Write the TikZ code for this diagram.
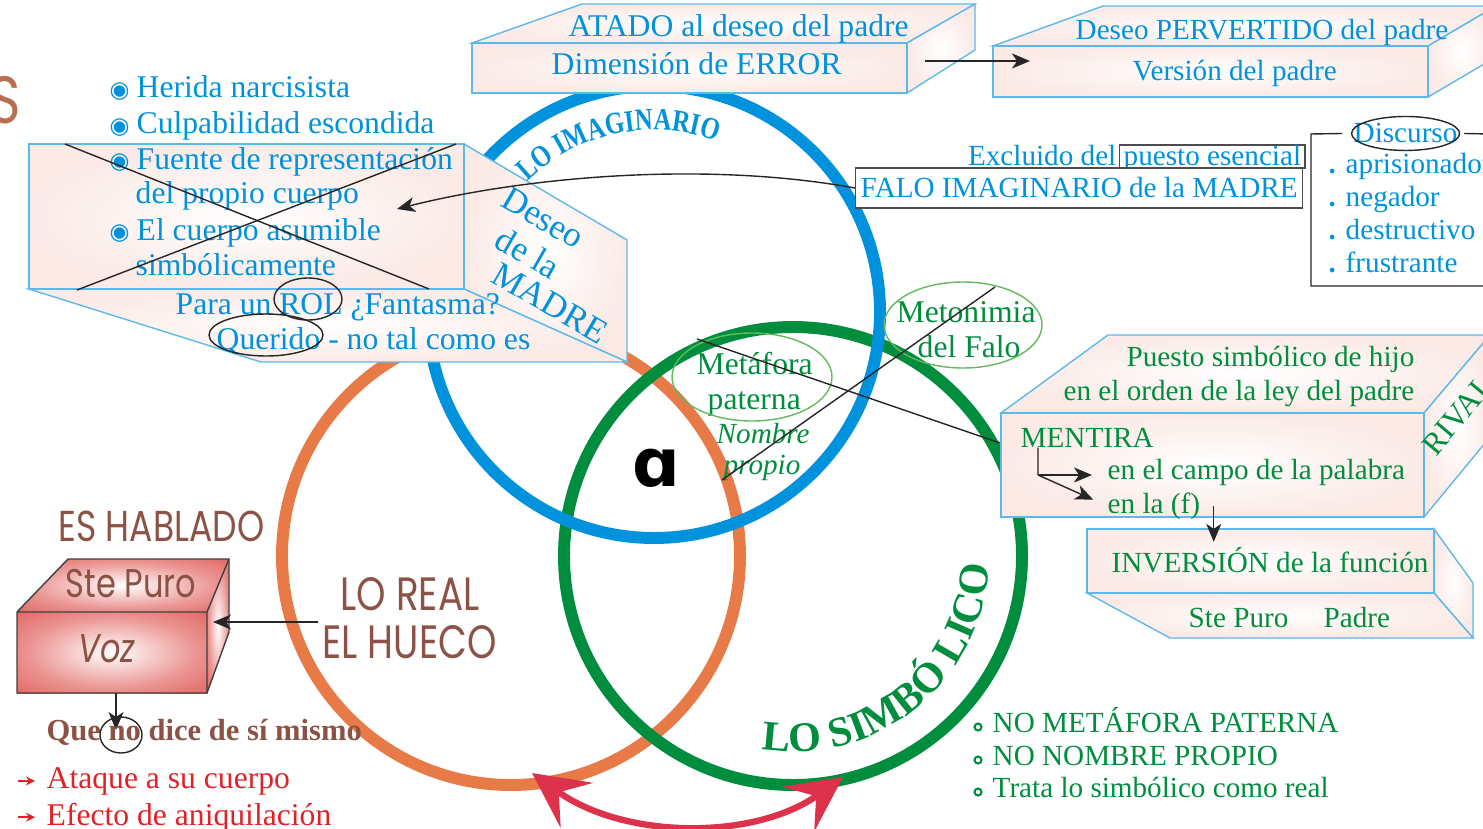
\documentclass[tikz,border=0pt]{standalone}
\usepackage{fontspec}
\setmainfont{Liberation Serif}
\newfontfamily\gothic[FakeStretch=0.8]{Poppins}
\newfontfamily\arcfont[FakeStretch=0.8]{Liberation Serif}
\newfontfamily\symfont{DejaVu Sans}
\usetikzlibrary{arrows.meta,decorations.text}

\definecolor{imagblue}{RGB}{0,146,221}
\definecolor{realorange}{RGB}{232,122,72}
\definecolor{simbgreen}{RGB}{0,142,62}
\definecolor{ovalgreen}{RGB}{100,185,90}
\definecolor{brownish}{RGB}{140,82,70}
\definecolor{sbrown}{RGB}{185,110,80}
\definecolor{alarmred}{RGB}{224,34,40}
\definecolor{arrowpink}{RGB}{221,50,76}
\definecolor{boxpink}{RGB}{251,234,230}
\definecolor{edgeblue}{RGB}{95,185,232}
\definecolor{boxred}{RGB}{214,42,36}

\pgfdeclareradialshading{redglow}{\pgfpoint{0bp}{0bp}}{color(0bp)=(white); color(22bp)=(boxred!50!white); color(45bp)=(boxred!85!white); color(70bp)=(boxred)}

\newcommand{\bul}{\makebox[2.7mm][l]{\raisebox{0.2pt}{\symfont\fontsize{6.5}{6.5}\selectfont ◉}}}

\tikzset{
  ring/.style={line width=3.4pt},
  face/.style={draw=edgeblue, line width=0.4pt, inner color=white, outer color=boxpink},
  redface/.style={shading=redglow},
  arr/.style={-{Stealth[length=1.8mm,width=1.5mm,inset=0.5mm]}, black!85, line width=0.4pt},
  redarr/.style={-{Stealth[length=0.9mm,width=0.9mm]}, alarmred, line width=0.5pt},
  thinline/.style={black!85, line width=0.4pt},
  oval/.style={ovalgreen, line width=0.4pt},
  blue9/.style={text=imagblue, inner sep=0pt, font=\fontsize{9}{10}\selectfont},
  blue8/.style={text=imagblue, inner sep=0pt, font=\fontsize{8.3}{10}\selectfont},
  green8/.style={text=simbgreen, inner sep=0pt, font=\fontsize{8.3}{10}\selectfont},
  green9/.style={text=simbgreen, inner sep=0pt, font=\fontsize{9}{10}\selectfont},
  gothtxt/.style={text=brownish, inner sep=0pt, font=\gothic\fontsize{11.4}{13}\selectfont},
  bigtxt/.style={text=brownish, inner sep=0pt, font=\gothic\fontsize{13.3}{15}\selectfont},
}

\begin{document}
\begin{tikzpicture}[x=0.1mm, y=-0.1mm]
\useasboundingbox (0,0) rectangle (1483,828);
\coordinate (real) at (511,556);
\coordinate (simb) at (793,556);
\coordinate (imag) at (654,312);
\draw[ring, realorange] (real) circle[radius=229];
\draw[ring, simbgreen] (simb) circle[radius=229];
\draw[ring, imagblue] (imag) circle[radius=226];
\path[decorate, decoration={text along path, text align=center, text color=imagblue,
  text={|\arcfont\bfseries\fontsize{8.8}{9}\selectfont|LO IMAGINARIO}}]
  (imag) ++(-156:182) arc[start angle=-156, end angle=-48, radius=182];
\path[decorate, decoration={text along path, text align=center, text color=simbgreen,
  text={|\bfseries\fontsize{12}{12}\selectfont|LO SIMBÓ LICO}}]
  (simb) ++(108:196) arc[start angle=108, end angle=-6, radius=196];

\node[gothtxt, font=\gothic\fontsize{19}{19}\selectfont, text=sbrown, anchor=base east] (sglyph) at (22,124) {S};

\draw[face] (472,43) -- (582,4) -- (975,4) -- (907,43) -- cycle;
\draw[face] (907,43) -- (975,4) -- (975,50) -- (907,93) -- cycle;
\draw[face] (472,43) rectangle (907,93);
\node[blue9, anchor=base west] (atado) at (568,37) {ATADO al deseo del padre};
\node[blue9, anchor=base west] (error) at (551,75) {Dimensión de ERROR};

\draw[face] (993,46) -- (1103,6) -- (1496,6) -- (1428,46) -- cycle;
\draw[face] (1428,46) -- (1496,6) -- (1496,57) -- (1428,97) -- cycle;
\draw[face] (993,46) rectangle (1428,97);
\node[blue8, anchor=base west] (pervertido) at (1075,40) {Deseo PERVERTIDO del padre};
\node[blue8, anchor=base west] (version) at (1132,81) {Versión del padre};
\coordinate (errout) at (925,61);
\coordinate (versin) at (1030,61);
\draw[arr] (errout) -- (versin);

\draw[face] (464,144) -- (627,240) -- (627,362) -- (464,289) -- cycle;
\draw[face] (29,289) -- (464,289) -- (627,362) -- (261,362) -- cycle;
\draw[face] (29,144) rectangle (464,289);
\node[blue9, anchor=base west] (herida) at (109,98) {\bul Herida narcisista};
\node[blue9, anchor=base west] (culpa) at (109,134) {\bul Culpabilidad escondida};
\node[blue9, anchor=base west] (fuente) at (109,169) {\bul Fuente de representación};
\node[blue9, anchor=base west] (propio) at (135,204) {del propio cuerpo};
\node[blue9, anchor=base west] (asumible) at (109,240) {\bul El cuerpo asumible};
\node[blue9, anchor=base west] (simbolic) at (135,275) {simbólicamente};
\draw[thinline] (65,144) -- (429,289);
\draw[thinline] (456,144) -- (77,290);
\node[blue9, anchor=base west] (rol) at (175,314) {Para un ROL ¿Fantasma?};
\node[blue9, anchor=base west] (querido) at (216,349) {Querido - no tal como es};
\draw[thinline] (308,299) ellipse[x radius=34, y radius=21];
\draw[thinline] (266,335) ellipse[x radius=57, y radius=21];
\node[blue9, font=\fontsize{10}{11}\selectfont, rotate=-30] (deseo) at (543,218) {Deseo};
\node[blue9, font=\fontsize{10}{11}\selectfont, rotate=-30] (dela) at (528,253) {de la};
\node[blue9, font=\fontsize{10}{11}\selectfont, rotate=-30] (madre) at (550,303) {MADRE};

\node[blue8, anchor=base east] (excluido) at (1117,165) {Excluido del};
\node[blue8, draw=black!70, anchor=base west, text height=2mm, text depth=0.3mm, inner xsep=0.4mm] (puesto) at (1119,165) {puesto esencial};
\node[blue8, draw=black!70, fill=white, anchor=base west, text height=2.9mm, text depth=1.1mm, inner xsep=0.5mm] (falo) at (855,197) {FALO IMAGINARIO de la MADRE};
\coordinate (madrin) at (397,209);
\draw[arr] (falo.west) .. controls (700,160) and (520,178) .. (madrin);

\node[blue8, anchor=base west] (disc) at (1353,143) {Discurso};
\draw[thinline] (disc.center) ellipse[x radius=54, y radius=17];
\draw[thinline] ([xshift=-1.1mm]disc.west) -- (1311,134) -- (1311,286) -- (1490,286);
\draw[thinline] ([xshift=0.6mm]disc.east) -- (1490,134);
\node[blue8, anchor=base west] (aprision) at (1328,174) {\textbf{.} aprisionador};
\node[blue8, anchor=base west] (negador) at (1328,206) {\textbf{.} negador};
\node[blue8, anchor=base west] (destruct) at (1328,239) {\textbf{.} destructivo};
\node[blue8, anchor=base west] (frustra) at (1328,272) {\textbf{.} frustrante};

\node[gothtxt, font=\symfont\bfseries\fontsize{19}{19}\selectfont, text=black, anchor=base] (alpha) at (656,486) {ɑ};

\node[green9, anchor=base west] (metafora) at (696,374) {Metáfora};
\node[green9, anchor=base west] (paterna) at (707,409) {paterna};
\draw[oval] (752,377) ellipse[x radius=80, y radius=44];
\node[green8, font=\itshape\fontsize{8.3}{10}\selectfont, anchor=base west] (nombre) at (716,443) {Nombre};
\node[green8, font=\itshape\fontsize{8.3}{10}\selectfont, anchor=base west] (propionom) at (723,474) {propio};
\node[green9, anchor=base west] (metonimia) at (896,322) {Metonimia};
\node[green9, anchor=base west] (delfalo) at (917,357) {del Falo};
\draw[oval] (963,325) ellipse[x radius=79, y radius=43];

\draw[face] (1001,413) -- (1108,335) -- (1490,335) -- (1424,413) -- cycle;
\draw[face] (1424,413) -- (1490,335) -- (1490,437) -- (1424,517) -- cycle;
\draw[face] (1001,413) rectangle (1424,517);
\node[green8, anchor=base east] (hijo) at (1415,366) {Puesto simbólico de hijo};
\node[green8, anchor=base east] (orden) at (1415,400) {en el orden de la ley del padre};
\node[green8, anchor=base west] (mentira) at (1020,447) {MENTIRA};
\node[green8, anchor=base west] (campo) at (1107,479) {en el campo de la palabra};
\node[green8, anchor=base west] (enlaf) at (1107,513) {en la (f)};
\node[green8, font=\fontsize{9}{10}\selectfont, rotate=50] (rival) at (1458,415) {RIVAL};
\coordinate (fork) at (1038,475);
\draw[thinline] ([xshift=1.8mm]mentira.south west) -- (fork);
\draw[arr, shorten >=1.5mm] (fork) -- (fork -| campo.west);
\draw[arr, shorten >=1.5mm] (fork) -- (enlaf.west);

\coordinate (metastart) at (697,339);
\coordinate (mentiraedge) at (1000,443);
\draw[thinline] (metastart) -- (mentiraedge);
\coordinate (propiostart) at (722,480);
\coordinate (metonend) at (995,287);
\draw[thinline] (propiostart) -- (metonend);

\draw[face] (1434,529) -- (1473,583) -- (1473,638) -- (1434,593) -- cycle;
\draw[face] (1087,593) -- (1434,593) -- (1473,638) -- (1170,638) -- cycle;
\draw[face] (1087,529) rectangle (1434,593);
\node[green8, anchor=base west] (inversion) at (1111,572) {INVERSIÓN de la función};
\node[green8, anchor=base west] (stepuro) at (1188,627) {Ste Puro};
\node[green8, anchor=base west] (padre) at (1323,627) {Padre};
\draw[arr] ([xshift=1.3mm]enlaf.east) -- ++(0,36);

\node[green8, anchor=base west] (nometafora) at (992,732) {NO METÁFORA PATERNA};
\node[green8, anchor=base west] (nonombre) at (992,765) {NO NOMBRE PROPIO};
\node[green8, anchor=base west] (trata) at (992,797) {Trata lo simbólico como real};
\foreach \item in {nometafora, nonombre, trata}
  \draw[simbgreen, line width=0.6pt] ([shift={(-14,-5)}]\item.base west) circle[radius=3.5];

\node[gothtxt, font=\gothic\fontsize{12.3}{14}\selectfont, anchor=base west] (hablado) at (58,541) {ES HABLADO};
\shade[redface] (17,612) -- (68,559) -- (229,559) -- (207,612) -- cycle;
\shade[redface] (207,612) -- (229,559) -- (229,632) -- (207,693) -- cycle;
\shade[redface] (17,612) rectangle (207,693);
\draw[black!75, line width=0.4pt] (17,612) -- (68,559) -- (229,559) -- (229,632) -- (207,693) -- (17,693) -- cycle;
\draw[black!75, line width=0.4pt] (17,612) -- (207,612) -- (229,559) (207,612) -- (207,693);
\node[gothtxt, anchor=base west] (stepurored) at (65,597) {Ste Puro};
\node[gothtxt, font=\gothic\itshape\fontsize{11.4}{13}\selectfont, anchor=base west] (voz) at (78,662) {Voz};

\node[bigtxt, anchor=base west] (loreal) at (340,610) {LO REAL};
\node[bigtxt, anchor=base west] (hueco) at (322,658) {EL HUECO};
\coordinate (holeout) at (318,622);
\coordinate (vozface) at (213,622);
\draw[arr] (holeout) -- (vozface);
\coordinate (vozbottom) at (116,693);
\draw[arr] (vozbottom) -- ++(0,37);

\node[text=brownish, inner sep=0pt, font=\bfseries\fontsize{8.7}{10}\selectfont, anchor=base west] (queno) at (46,740) {Que no dice de sí mismo};
\draw[thinline] (121,735) ellipse[x radius=21, y radius=18];
\node[text=alarmred, inner sep=0pt, font=\fontsize{9}{10}\selectfont, anchor=base west] (ataque) at (46,788) {Ataque a su cuerpo};
\node[text=alarmred, inner sep=0pt, font=\fontsize{9}{10}\selectfont, anchor=base west] (efecto) at (46,825) {Efecto de aniquilación};
\draw[redarr] ([xshift=-2.8mm]ataque.west) -- ([xshift=-1.1mm]ataque.west);
\draw[redarr] ([xshift=-2.8mm]efecto.west) -- ([xshift=-1.1mm]efecto.west);

\coordinate (lefttip) at (532,773);
\coordinate (righttip) at (843,777);
\draw[arrowpink, line width=1.8pt, {Stealth[length=5.5mm,width=5.5mm,inset=2.2mm]}-{Stealth[length=5.5mm,width=5.5mm,inset=2.2mm]}] (lefttip) .. controls (625,840) and (755,840) .. (righttip);
\end{tikzpicture}
\end{document}
